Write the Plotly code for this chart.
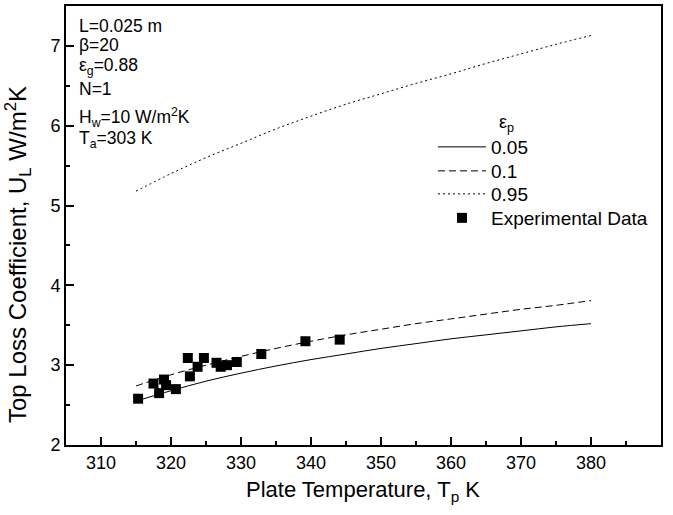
import plotly.graph_objects as go

# Model curves (plate temperature, K)
T_curve = [315, 320, 325, 330, 335, 340, 345, 350, 355, 360, 365, 370, 375, 380]
U_005 = [2.55, 2.68, 2.80, 2.90, 2.99, 3.07, 3.14, 3.21, 3.27, 3.33, 3.38, 3.43, 3.48, 3.52]
U_01 = [2.74, 2.88, 3.00, 3.11, 3.21, 3.30, 3.38, 3.45, 3.52, 3.58, 3.64, 3.70, 3.75, 3.81]
U_095 = [5.18, 5.40, 5.60, 5.78, 5.96, 6.12, 6.27, 6.40, 6.53, 6.65, 6.78, 6.90, 7.02, 7.13]

# Experimental data
T_exp = [315.3, 317.5, 318.3, 319.0, 319.3, 320.7, 322.4, 322.7, 323.8, 324.7,
         326.5, 327.1, 328.0, 329.4, 332.9, 339.2, 344.1]
U_exp = [2.58, 2.77, 2.65, 2.82, 2.75, 2.70, 3.09, 2.86, 2.98, 3.09,
         3.03, 2.98, 3.00, 3.04, 3.14, 3.30, 3.32]

x_ticks = [310, 320, 330, 340, 350, 360, 370, 380, 390]
y_ticks = [2, 3, 4, 5, 6, 7]

FONT = "Arial, Liberation Sans, sans-serif"

# plot area in pixels (for paper coordinates of text)
L, R, T, B = 66, 661, 6, 445
W, H = R - L, B - T


def px(x):
    return (x - L) / W


def py(y):
    return (B - y) / H


fig = go.Figure()
fig.add_trace(go.Scatter(x=T_curve, y=U_005, mode="lines", name="0.05", line_shape="spline",
                         legend="legend",
                         line=dict(color="black", width=1, dash="solid")))
fig.add_trace(go.Scatter(x=T_curve, y=U_01, mode="lines", name="0.1", line_shape="spline",
                         legend="legend2",
                         line=dict(color="black", width=1, dash="7px,4px")))
fig.add_trace(go.Scatter(x=T_curve, y=U_095, mode="lines", name="0.95", line_shape="spline",
                         legend="legend3",
                         line=dict(color="black", width=1, dash="2px,3px")))
fig.add_trace(go.Scatter(x=T_exp, y=U_exp, mode="markers", name="Experimental Data",
                         legend="legend4",
                         marker=dict(symbol="square", size=10, color="black")))

info = [
    ("L=0.025 m", 26),
    ("β=20", 45),
    ("ε<sub>g</sub>=0.88", 67),
    ("N=1", 89),
    ("H<sub>w</sub>=10 W/m<sup>2</sup>K", 118),
    ("T<sub>a</sub>=303 K", 139),
]
for txt, ypx in info:
    fig.add_annotation(text=txt, xref="paper", yref="paper",
                       x=px(77), y=py(ypx),
                       xanchor="left", yanchor="middle", showarrow=False,
                       font=dict(family=FONT, size=17.5, color="black"))

fig.add_annotation(text="ε<sub>p</sub>", xref="paper", yref="paper",
                   x=px(506), y=py(124),
                   xanchor="center", yanchor="middle", showarrow=False,
                   font=dict(family=FONT, size=18, color="black"))

fig.add_annotation(text="Plate Temperature, T<sub>p</sub> K", xref="paper", yref="paper",
                   x=px(363), y=py(491), xanchor="center", yanchor="middle", showarrow=False,
                   font=dict(family=FONT, size=22, color="black"))
fig.add_annotation(text="Top Loss Coefficient, U<sub>L</sub> W/m<sup>2</sup>K",
                   xref="paper", yref="paper", textangle=-90,
                   x=px(18), y=py(255), xanchor="center", yanchor="middle", showarrow=False,
                   font=dict(family=FONT, size=24, color="black"))


def leg(row_y):
    return dict(x=px(433), y=py(row_y), xanchor="left", yanchor="middle",
                bgcolor="rgba(0,0,0,0)", font=dict(family=FONT, size=19, color="black"),
                itemwidth=48)


fig.update_layout(
    width=673, height=515,
    margin=dict(l=L, r=673 - R, t=T, b=515 - B),
    paper_bgcolor="white", plot_bgcolor="white",
    font=dict(family=FONT, size=18, color="black"),
    showlegend=True,
    legend=leg(147), legend2=leg(171), legend3=leg(194), legend4=leg(218),
    xaxis=dict(range=[305, 390], tickvals=x_ticks, ticks="inside", ticklen=8, tickwidth=2,
               tickcolor="black", showline=True, linecolor="black", linewidth=2, mirror=True,
               showgrid=False, zeroline=False, automargin=False,
               minor=dict(ticks="inside", ticklen=4, tickwidth=2, dtick=5, tickcolor="black")),
    yaxis=dict(range=[2, 7.5], tickvals=y_ticks, ticks="inside", ticklen=8, tickwidth=2,
               tickcolor="black", showline=True, linecolor="black", linewidth=2, mirror=True,
               showgrid=False, zeroline=False, automargin=False,
               minor=dict(ticks="inside", ticklen=4, tickwidth=2, dtick=0.5, tickcolor="black")),
)

fig.write_html("out.html", config={"displayModeBar": False},
               post_script="document.body.style.margin='0';")
